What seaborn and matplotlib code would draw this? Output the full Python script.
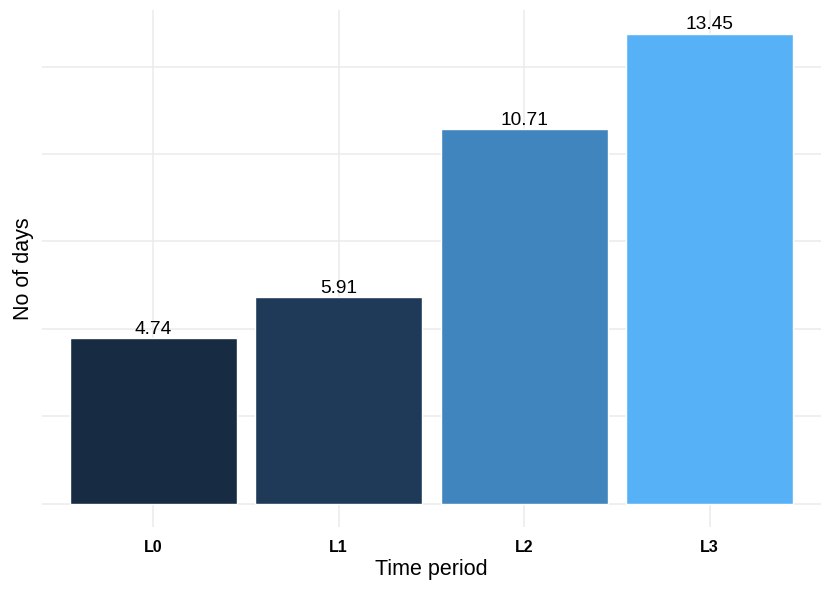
import matplotlib
matplotlib.use('Agg')
import matplotlib.pyplot as plt
import seaborn as sns
import pandas as pd
from matplotlib.ticker import MultipleLocator

periods = ['L0', 'L1', 'L2', 'L3']
days = [4.74, 5.91, 10.71, 13.45]
bar_colors = ['#172b42', '#1e3a58', '#4085bd', '#56b1f7']

sns.set_style("white")
plt.rcParams['font.family'] = ['Liberation Sans', 'DejaVu Sans']
plt.rcParams['text.color'] = 'black'
plt.rcParams['axes.labelcolor'] = 'black'
plt.rcParams['xtick.color'] = 'black'
plt.rcParams['ytick.color'] = 'black'

df = pd.DataFrame({'period': periods, 'days': days})

fig = plt.figure(figsize=(8.3, 5.89), dpi=100)
ax = fig.add_axes([0.0506, 0.105, 0.9385, 0.878])

sns.barplot(data=df, x='period', y='days', hue='period', palette=bar_colors,
            width=0.9, saturation=1, legend=False, ax=ax, zorder=2)

for i, v in enumerate(days):
    ax.text(i, v + 0.01, f'{v:.2f}', ha='center', va='bottom',
            fontsize=13.8, color='black', zorder=4)

ymax = max(days)
ax.set_ylim(-0.05 * ymax, 1.05 * ymax)
ax.set_xlim(-0.6, len(periods) - 0.4)

ax.yaxis.set_major_locator(MultipleLocator(5))
ax.yaxis.set_minor_locator(MultipleLocator(2.5))
ax.grid(True, which='both', axis='y', color='#ebebeb', linewidth=1.1, zorder=0)
ax.grid(True, which='major', axis='x', color='#ebebeb', linewidth=1.1, zorder=0)
ax.set_axisbelow(True)

for s in ax.spines.values():
    s.set_visible(False)

ax.tick_params(axis='both', which='both', length=0)
ax.set_yticklabels([])
ax.set_xticks(range(len(periods)))
ax.set_xticklabels(periods, fontweight='bold', fontsize=11.5, color='black')
ax.tick_params(axis='x', pad=9)

ax.set_xlabel('Time period', fontsize=15.5, labelpad=3, color='black')
ax.set_ylabel('No of days', fontsize=15.5, labelpad=2, color='black')

fig.savefig('out.png', dpi=100, facecolor='white')
